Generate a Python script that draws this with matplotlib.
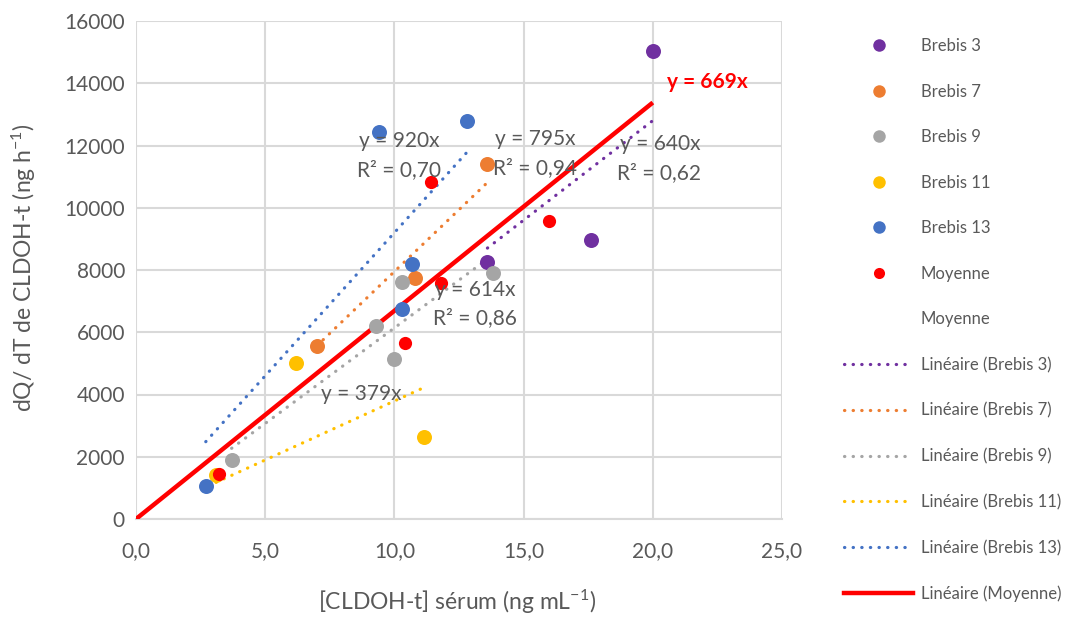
import matplotlib
matplotlib.use("Agg")
import matplotlib.pyplot as plt
from matplotlib.lines import Line2D
import numpy as np

plt.rcParams['font.family'] = ['Lato', 'DejaVu Sans']
plt.rcParams['mathtext.fontset'] = 'custom'
plt.rcParams['mathtext.rm'] = 'Lato'
plt.rcParams['mathtext.it'] = 'Lato:italic'
plt.rcParams['mathtext.bf'] = 'Lato:bold'

# ---- data ----
series_names = ["Brebis 3", "Brebis 7", "Brebis 9", "Brebis 11", "Brebis 13", "Moyenne"]
brebis3_x = [13.6, 17.6, 20.0]
brebis3_y = [8250, 8960, 15050]
brebis7_x = [7.0, 10.8, 13.6]
brebis7_y = [5550, 7740, 11420]
brebis9_x = [3.7, 9.3, 10.0, 10.3, 13.8]
brebis9_y = [1880, 6200, 5150, 7610, 7900]
brebis11_x = [3.1, 6.2, 11.15]
brebis11_y = [1400, 5020, 2640]
brebis13_x = [2.7, 9.4, 10.3, 10.7, 12.8]
brebis13_y = [1050, 12430, 6750, 8190, 12790]
moyenne_x = [3.2, 10.4, 11.4, 11.8, 16.0]
moyenne_y = [1460, 5660, 10830, 7580, 9580]
moyenne_hidden_x = [0.0, 20.0]   # second (invisible) "Moyenne" series
slopes = [640, 795, 614, 379, 920, 669]
r2_labels = ["0,62", "0,94", "0,86", None, "0,70", None]
x_ticks = [0, 5, 10, 15, 20, 25]
y_ticks = [0, 2000, 4000, 6000, 8000, 10000, 12000, 14000, 16000]

colors = ["#7030A0", "#ED7D31", "#A5A5A5", "#FFC000", "#4472C4", "#FF0000"]
xs = [brebis3_x, brebis7_x, brebis9_x, brebis11_x, brebis13_x, moyenne_x]
ys = [brebis3_y, brebis7_y, brebis9_y, brebis11_y, brebis13_y, moyenne_y]

W, H = 1073, 617
fig = plt.figure(figsize=(W/100, H/100), dpi=100)
ax = fig.add_axes([136/W, 1-519/H, (782-136)/W, (519-21)/H])

txt_col = "#595959"
grid_col = "#D9D9D9"

# trendlines
for i in range(5):
    xr = np.array([min(xs[i]), max(xs[i])])
    ax.plot(xr, slopes[i]*xr, color=colors[i], lw=2.3,
            linestyle=(0, (0.1, 2.6)), dash_capstyle='round', zorder=3)
xr = np.array(moyenne_hidden_x)
ax.plot(xr, slopes[5]*xr, color=colors[5], lw=3.2, solid_capstyle='butt', zorder=3)

# markers
for i in range(6):
    ms = 10.8 if i < 5 else 9.5
    ax.plot(xs[i], ys[i], 'o', color=colors[i], ms=ms, mec='none', zorder=4)

ax.set_xlim(0, 25)
ax.set_ylim(0, 16000)
ax.set_xticks(x_ticks)
ax.set_xticklabels([f"{v:.1f}".replace('.', ',') for v in x_ticks])
ax.set_yticks(y_ticks)
ax.set_yticklabels([str(v) for v in y_ticks])
ax.grid(True, color=grid_col, lw=1.5)
ax.set_axisbelow(True)
for s in ['top', 'right', 'left']:
    ax.spines[s].set_visible(False)
ax.spines['bottom'].set_color(grid_col)
ax.spines['bottom'].set_linewidth(1.5)
ax.tick_params(length=0, labelsize=15, labelcolor=txt_col)
ax.tick_params(axis='x', pad=16)
ax.tick_params(axis='y', pad=8)

fig.text(457/W, 1-602/H, r"[CLDOH-t] sérum (ng mL$^{-1}$)", fontsize=16.5,
         color=txt_col, ha='center', va='center')
fig.text(24/W, 1-268/H, r"dQ/ dT de CLDOH-t (ng h$^{-1}$)", fontsize=16.5,
         color=txt_col, ha='center', va='center', rotation=90)

def px2data(px, py):
    return (px-136)/((782-136)/25), (519-py)*16000/(519-21)

lab_fs = 15
label_pos = {
    4: [(359, 141), (357, 170)],
    1: [(495, 139), (493, 168)],
    0: [(620, 144), (617, 173)],
    2: [(435, 290), (433, 318)],
    3: [(321, 394)],
}
for i, pos in label_pos.items():
    x, y = px2data(*pos[0])
    ax.text(x, y, f"y = {slopes[i]}x", fontsize=lab_fs, color=txt_col, ha='left', va='center', zorder=5)
    if r2_labels[i] is not None:
        x, y = px2data(*pos[1])
        ax.text(x, y, f"R² = {r2_labels[i]}", fontsize=lab_fs, color=txt_col, ha='left', va='center', zorder=5)
x, y = px2data(667, 82)
ax.text(x, y, f"y = {slopes[5]}x", fontsize=lab_fs, color="#FF0000", fontweight='bold', ha='left', va='center', zorder=5)

# legend
handles = []
labels = []
for i in range(6):
    handles.append(Line2D([], [], ls='none', marker='o', color=colors[i], ms=9 if i < 5 else 8, mec='none'))
    labels.append(series_names[i])
handles.append(Line2D([], [], ls='none', marker=None))
labels.append("Moyenne")
for i in range(5):
    handles.append(Line2D([], [], color=colors[i], lw=2.3, linestyle=(0, (0.1, 2.6)), dash_capstyle='round'))
    labels.append(f"Linéaire ({series_names[i]})")
handles.append(Line2D([], [], color=colors[5], lw=3.2))
labels.append("Linéaire (Moyenne)")

leg = fig.legend(handles, labels, loc='upper left', bbox_to_anchor=(844/W, 1-38/H),
                 frameon=False, fontsize=12, handlelength=4.15, handletextpad=0.45,
                 labelspacing=1.775, borderpad=0, borderaxespad=0)
for t in leg.get_texts():
    t.set_color(txt_col)

fig.savefig("out.png", dpi=100)
